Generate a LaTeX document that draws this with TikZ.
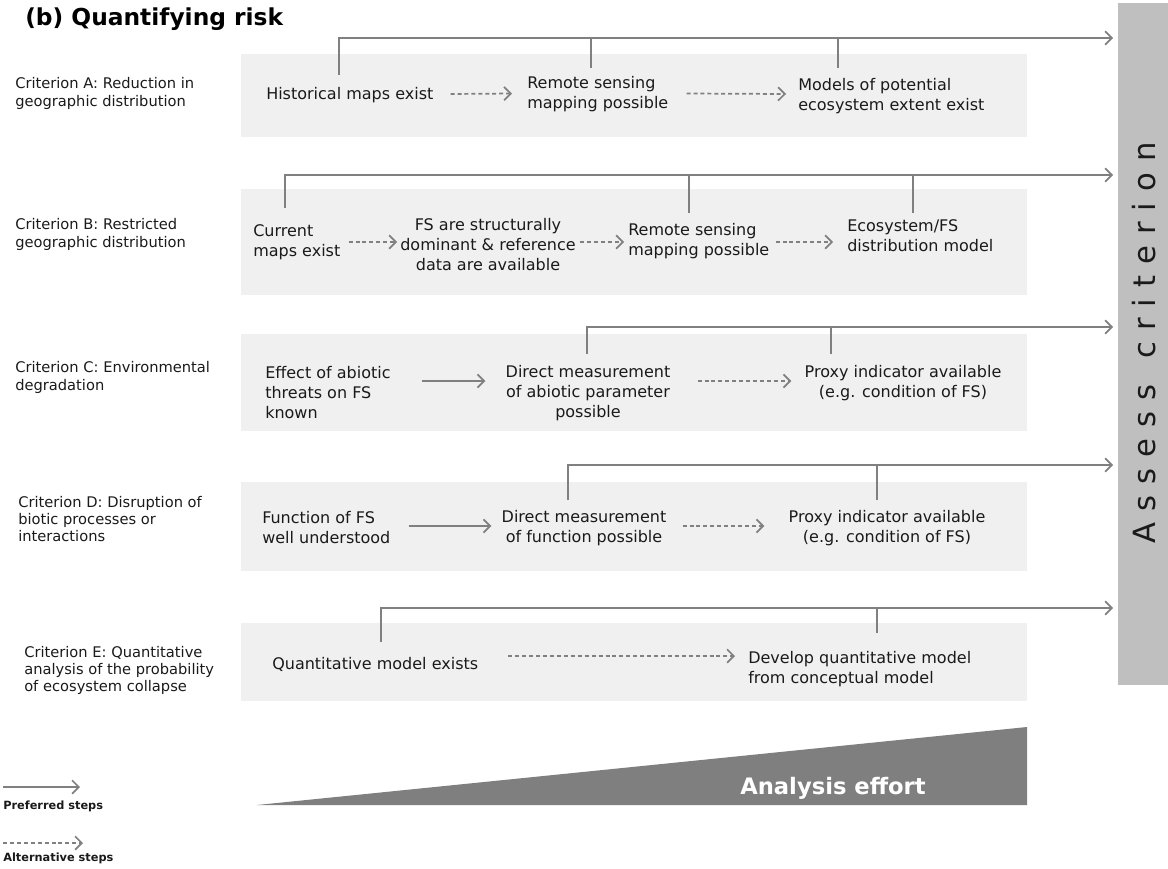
\documentclass[tikz,border=0pt]{standalone}
\usepackage{fontspec}
\setmainfont{DejaVu Sans}
\usetikzlibrary{arrows.meta,calc}
\definecolor{conn}{HTML}{808080}
\definecolor{rowbg}{HTML}{F0F0F0}
\definecolor{barc}{HTML}{BFBFBF}
\definecolor{effortc}{HTML}{7F7F7F}
\definecolor{txt}{HTML}{1A1A1A}
\begin{document}
\begin{tikzpicture}[x=0.75pt,y=-0.75pt,
 pref/.style={draw=conn, line width=1.3pt, -{Straight Barb[length=5pt,width=10pt]}},
 alt/.style={pref, dash pattern=on 3pt off 2.2pt},
 bus/.style={draw=conn, line width=1.3pt},
 rowbox/.style={fill=rowbg},
 flow/.style={inner sep=0pt, font=\fontsize{12}{15}\selectfont, text=txt},
 crit/.style={inner sep=0pt, anchor=west, align=left, font=\fontsize{11}{13}\selectfont, text=txt},
]
\useasboundingbox (0,0) rectangle (1168,868);

% title
\node[inner sep=0pt, anchor=west, font=\fontsize{17.5}{20}\selectfont\bfseries] (title) at (25,19) {(b) Quantifying risk};

% row backgrounds
\fill[rowbox] (241,54) rectangle (1027,137);
\fill[rowbox] (241,189) rectangle (1027,295);
\fill[rowbox] (241,334) rectangle (1027,431);
\fill[rowbox] (241,482) rectangle (1027,571);
\fill[rowbox] (241,623) rectangle (1027,701);

% assess bar
\fill[barc] (1118,3) rectangle (1168,685);
\node[inner sep=0pt, rotate=90, font=\fontsize{23}{23}\selectfont\addfontfeatures{LetterSpace=36}, text=txt] (assess) at (1144,343) {Assess\hspace{4pt} criterion};

% criterion labels
\node[crit] (cA) at (15,93.5) {Criterion A: Reduction in\\geographic distribution};
\node[crit] (cB) at (15,234.5) {Criterion B: Restricted\\geographic distribution};
\node[crit] (cC) at (15,377.5) {Criterion C: Environmental\\degradation};
\node[crit] (cD) at (18,519) {Criterion D: Disruption of\\biotic processes or\\interactions};
\node[crit] (cE) at (24,670.5) {Criterion E: Quantitative\\analysis of the probability\\of ecosystem collapse};

% row A
\node[flow, anchor=west] (A1) at (266,95) {Historical maps exist};
\node[flow, anchor=west, align=left] (A2) at (527,94.5) {Remote sensing\\mapping possible};
\node[flow, anchor=west, align=left] (A3) at (798,96) {Models of potential\\ecosystem extent exist};
\draw[alt] ($(A1.east)+(17,-1)$) -- ($(A2.west)+(-15,-1)$);
\draw[alt] ($(A2.east)+(18,-1)$) -- ($(A3.west)+(-12,-2)$);
\coordinate (Aend) at (1113,38);
\draw[pref] (339,75) |- (Aend);
\draw[bus] (591,68) -- (591,38);
\draw[bus] (838,68) -- (838,38);

% row B
\node[flow, anchor=west, align=left] (B1) at (253,242.5) {Current\\maps exist};
\node[flow, align=center] (B2) at (488,244.5) {FS are structurally\\dominant \& reference\\data are available};
\node[flow, anchor=west, align=left] (B3) at (628,241) {Remote sensing\\mapping possible};
\node[flow, anchor=west, align=left] (B4) at (847,235.5) {Ecosystem/FS\\distribution model};
\draw[alt] ($(B1.east)+(8,-0.5)$) -- ($(B2.west)+(-3,-2.5)$);
\draw[alt] ($(B2.east)+(4,-2.5)$) -- ($(B3.west)+(-4,1)$);
\draw[alt] ($(B3.east)+(6,1)$) -- ($(B4.west)+(-14,6.5)$);
\coordinate (Bend) at (1113,175);
\draw[pref] (285,208) |- (Bend);
\draw[bus] (689,213) -- (689,175);
\draw[bus] (913,213) -- (913,175);

% row C
\node[flow, anchor=west, align=left] (C1) at (265,393) {Effect of abiotic\\threats on FS\\known};
\node[flow, align=center] (C2) at (588,393) {Direct measurement\\of abiotic parameter\\possible};
\node[flow, align=center] (C3) at (903,383) {Proxy indicator available\\(e.g. condition of FS)};
\draw[pref] ($(C1.east)+(31,-12)$) -- ($(C2.west)+(-20,-12)$);
\draw[alt] ($(C2.east)+(27,-12)$) -- ($(C3.west)+(-13,-2)$);
\coordinate (Cend) at (1113,327);
\draw[pref] (587,354) |- (Cend);
\draw[bus] (831,354) -- (831,327);

% row D
\node[flow, anchor=west, align=left] (D1) at (262,528) {Function of FS\\well understood};
\node[flow, align=center] (D2) at (584,528) {Direct measurement\\of function possible};
\node[flow, align=center] (D3) at (887,528) {Proxy indicator available\\(e.g. condition of FS)};
\draw[pref] ($(D1.east)+(18,-2)$) -- ($(D2.west)+(-10,-2)$);
\draw[alt] ($(D2.east)+(16,-2)$) -- ($(D3.west)+(-24,-2)$);
\coordinate (Dend) at (1113,465);
\draw[pref] (568,500) |- (Dend);
\draw[bus] (877,500) -- (877,465);

% row E
\node[flow, anchor=west] (E1) at (272,664) {Quantitative model exists};
\node[flow, anchor=west, align=left] (E2) at (748,669) {Develop quantitative model\\from conceptual model};
\draw[alt] ($(E1.east)+(30,-8)$) -- ($(E2.west)+(-13,-13)$);
\coordinate (Eend) at (1113,608);
\draw[pref] (381,642) |- (Eend);
\draw[bus] (877,633) -- (877,608);

% analysis effort
\fill[effortc] (257,805) -- (1027,727) -- (1027,805) -- cycle;
\node[inner sep=0pt, font=\fontsize{17}{20}\selectfont\bfseries, text=white] (effort) at (833,788) {Analysis effort};

% legend
\coordinate (L1a) at (3,787);
\coordinate (L1b) at (80,787);
\draw[pref] (L1a) -- (L1b);
\node[inner sep=0pt, anchor=west, font=\fontsize{8.5}{10}\selectfont\bfseries, text=txt] (L1) at (3,806) {Preferred steps};
\coordinate (L2a) at (3,843);
\coordinate (L2b) at (83,843);
\draw[alt] (L2a) -- (L2b);
\node[inner sep=0pt, anchor=west, font=\fontsize{8.5}{10}\selectfont\bfseries, text=txt] (L2) at (3,858) {Alternative steps};
\end{tikzpicture}
\end{document}
